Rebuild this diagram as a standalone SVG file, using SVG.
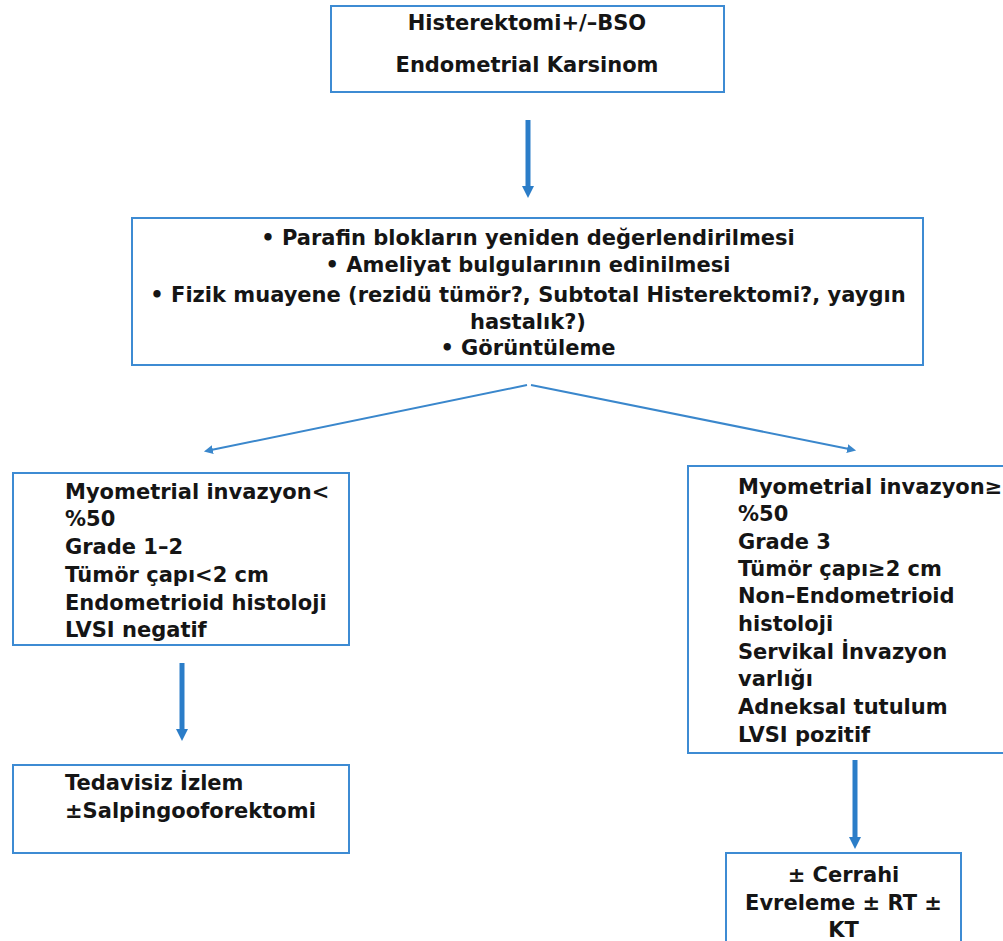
<svg xmlns="http://www.w3.org/2000/svg" width="1003" height="941" viewBox="0 0 1003 941">
  <style>
    .box { fill: #ffffff; stroke: #3d8bd3; stroke-width: 2; }
    .t { font-family: "DejaVu Sans", "Liberation Sans", sans-serif; font-weight: bold; font-size: 21px; fill: #151515; }
    .c { text-anchor: middle; }
    .thick { stroke: #2b7dc8; stroke-width: 5; fill: none; }
    .thin { stroke: #3a87cc; stroke-width: 2; fill: none; }
  </style>
  <defs>
    <marker id="headBig" viewBox="0 0 10 10" refX="0" refY="5" markerWidth="2.4" markerHeight="2.4" markerUnits="strokeWidth" orient="auto">
      <path d="M0,0 L10,5 L0,10 Z" fill="#2b7dc8"/>
    </marker>
    <marker id="headSmall" viewBox="0 0 10 10" refX="2" refY="5" markerWidth="4.5" markerHeight="4.5" markerUnits="strokeWidth" orient="auto">
      <path d="M0,0 L10,5 L0,10 Z" fill="#3a87cc"/>
    </marker>
  </defs>
  <rect width="1003" height="941" fill="#ffffff"/>

  <g id="connectors">
    <line class="thick" x1="528" y1="120" x2="528" y2="186" marker-end="url(#headBig)"/>
    <line class="thin" x1="527" y1="385" x2="211" y2="450" marker-end="url(#headSmall)"/>
    <line class="thin" x1="531" y1="385" x2="849" y2="449" marker-end="url(#headSmall)"/>
    <line class="thick" x1="182" y1="663" x2="182" y2="729" marker-end="url(#headBig)"/>
    <line class="thick" x1="855" y1="760" x2="855" y2="837" marker-end="url(#headBig)"/>
  </g>

  <g id="node-top">
    <rect class="box" x="331" y="6" width="393" height="86"/>
    <text class="t c" x="527" y="30">Histerektomi+/–BSO</text>
    <text class="t c" x="527" y="72">Endometrial Karsinom</text>
  </g>

  <g id="node-middle">
    <rect class="box" x="132" y="218" width="791" height="147"/>
    <text class="t c" x="528" y="245">•  Parafin blokların yeniden değerlendirilmesi</text>
    <text class="t c" x="528" y="272">•  Ameliyat bulgularının edinilmesi</text>
    <text class="t c" x="528" y="302">•  Fizik muayene (rezidü tümör?, Subtotal Histerektomi?, yaygın</text>
    <text class="t c" x="528" y="329">hastalık?)</text>
    <text class="t c" x="528" y="355">•  Görüntüleme</text>
  </g>

  <g id="node-left">
    <rect class="box" x="13" y="473" width="336" height="172"/>
    <text class="t" x="65" y="499">Myometrial invazyon&lt;</text>
    <text class="t" x="65" y="526">%50</text>
    <text class="t" x="65" y="554">Grade 1–2</text>
    <text class="t" x="65" y="582">Tümör çapı&lt;2 cm</text>
    <text class="t" x="65" y="610">Endometrioid histoloji</text>
    <text class="t" x="65" y="637">LVSI negatif</text>
  </g>

  <g id="node-right">
    <rect class="box" x="688" y="466" width="330" height="287"/>
    <text class="t" x="738" y="494">Myometrial invazyon≥</text>
    <text class="t" x="738" y="521">%50</text>
    <text class="t" x="738" y="549">Grade 3</text>
    <text class="t" x="738" y="576">Tümör çapı≥2 cm</text>
    <text class="t" x="738" y="603">Non–Endometrioid</text>
    <text class="t" x="738" y="631">histoloji</text>
    <text class="t" x="738" y="659">Servikal İnvazyon</text>
    <text class="t" x="738" y="686">varlığı</text>
    <text class="t" x="738" y="714">Adneksal tutulum</text>
    <text class="t" x="738" y="742">LVSI pozitif</text>
  </g>

  <g id="node-left-result">
    <rect class="box" x="13" y="765" width="336" height="88"/>
    <text class="t" x="65" y="790">Tedavisiz İzlem</text>
    <text class="t" x="65" y="818">±Salpingooforektomi</text>
  </g>

  <g id="node-right-result">
    <rect class="box" x="726" y="853" width="235" height="100"/>
    <text class="t c" x="843.5" y="882">± Cerrahi</text>
    <text class="t c" x="843.5" y="910">Evreleme ± RT ±</text>
    <text class="t c" x="843.5" y="937">KT</text>
  </g>
</svg>
